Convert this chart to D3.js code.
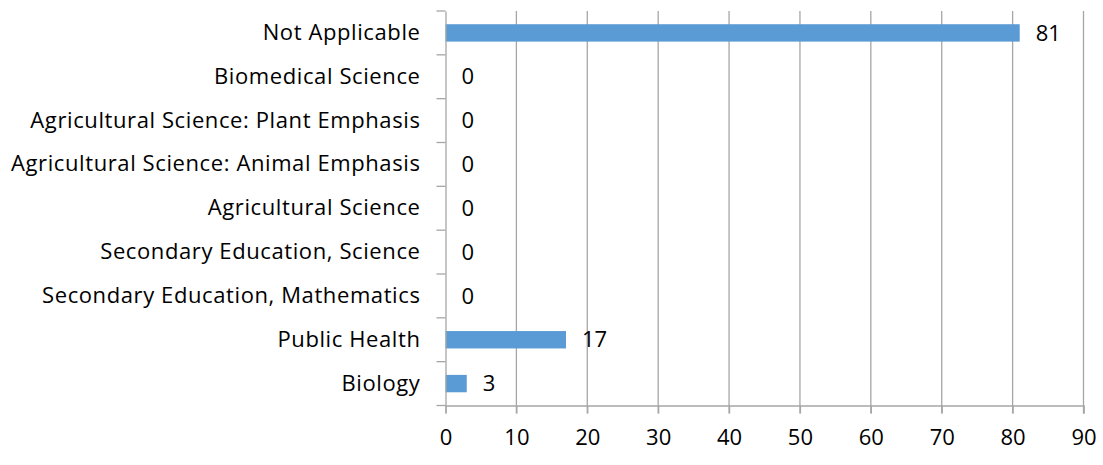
<!DOCTYPE html>
<html>
<head>
<meta charset="utf-8">
<script src="https://cdn.jsdelivr.net/npm/d3@7"></script>
<style>
  body { margin: 0; background: #fff; }
  text { font-family: "Open Sans", sans-serif; fill: #000; }
</style>
</head>
<body>
<svg id="chart" width="1103" height="465"></svg>
<script>
const categories = ["Not Applicable", "Biomedical Science", "Agricultural Science: Plant Emphasis",
  "Agricultural Science: Animal Emphasis", "Agricultural Science", "Secondary Education, Science",
  "Secondary Education, Mathematics", "Public Health", "Biology"];
const values = [81, 0, 0, 0, 0, 0, 0, 17, 3];
const xTicks = [0, 10, 20, 30, 40, 50, 60, 70, 80, 90];

const margin = {top: 11, left: 445.5, right: 19.5, bottom: 59.5};
const width = 1103, height = 465;
const innerW = width - margin.left - margin.right;
const innerH = height - margin.top - margin.bottom;
const font = "Open Sans";

const svg = d3.select("#chart");
const g = svg.append("g").attr("transform", `translate(${margin.left},${margin.top})`);

const x = d3.scaleLinear().domain([0, 90]).range([0, innerW]);
const yb = d3.scaleBand().domain(categories).range([0, innerH]);

// vertical grid
g.selectAll(".grid").data(xTicks.slice(1)).enter().append("line")
  .attr("x1", d => x(d)).attr("x2", d => x(d))
  .attr("y1", 0).attr("y2", innerH + 8)
  .attr("stroke", "#a6a6a6").attr("stroke-width", 1.3);

// bars
g.selectAll(".bar").data(values).enter().append("rect")
  .attr("x", 0)
  .attr("y", (d, i) => yb(categories[i]) + yb.bandwidth() / 2 - 8.7)
  .attr("width", d => x(d))
  .attr("height", 17.4)
  .attr("fill", "#5b9bd5");

// x axis
const xAxis = g.append("g").attr("transform", `translate(0,${innerH})`)
  .call(d3.axisBottom(x).tickValues(xTicks).tickSize(8).tickPadding(16));
xAxis.select(".domain").attr("stroke", "#a6a6a6").attr("stroke-width", 1.3);
xAxis.selectAll(".tick line").attr("stroke", "#a6a6a6").attr("stroke-width", 1.3);
xAxis.selectAll("text").attr("font-size", 22).attr("font-family", font).attr("fill", "#000");

// y axis
const yAxis = g.append("g")
  .call(d3.axisLeft(yb).tickSize(0).tickPadding(25));
yAxis.select(".domain").attr("stroke", "#a6a6a6").attr("stroke-width", 1.3);
yAxis.selectAll("text").attr("font-size", 22).attr("font-family", font)
  .attr("letter-spacing", 0.6).attr("fill", "#000");
// y tick marks at band boundaries
const bounds = categories.map(c => yb(c)).concat([innerH]);
g.selectAll(".ytick").data(bounds).enter().append("line")
  .attr("x1", -9).attr("x2", 0)
  .attr("y1", d => d).attr("y2", d => d)
  .attr("stroke", "#a6a6a6").attr("stroke-width", 1.3);

// value labels
g.selectAll(".val").data(values).enter().append("text")
  .attr("x", d => x(d) + 16)
  .attr("y", (d, i) => yb(categories[i]) + yb.bandwidth() / 2)
  .attr("dy", "0.35em")
  .attr("font-size", 22)
  .text(d => d);
</script>
</body>
</html>
